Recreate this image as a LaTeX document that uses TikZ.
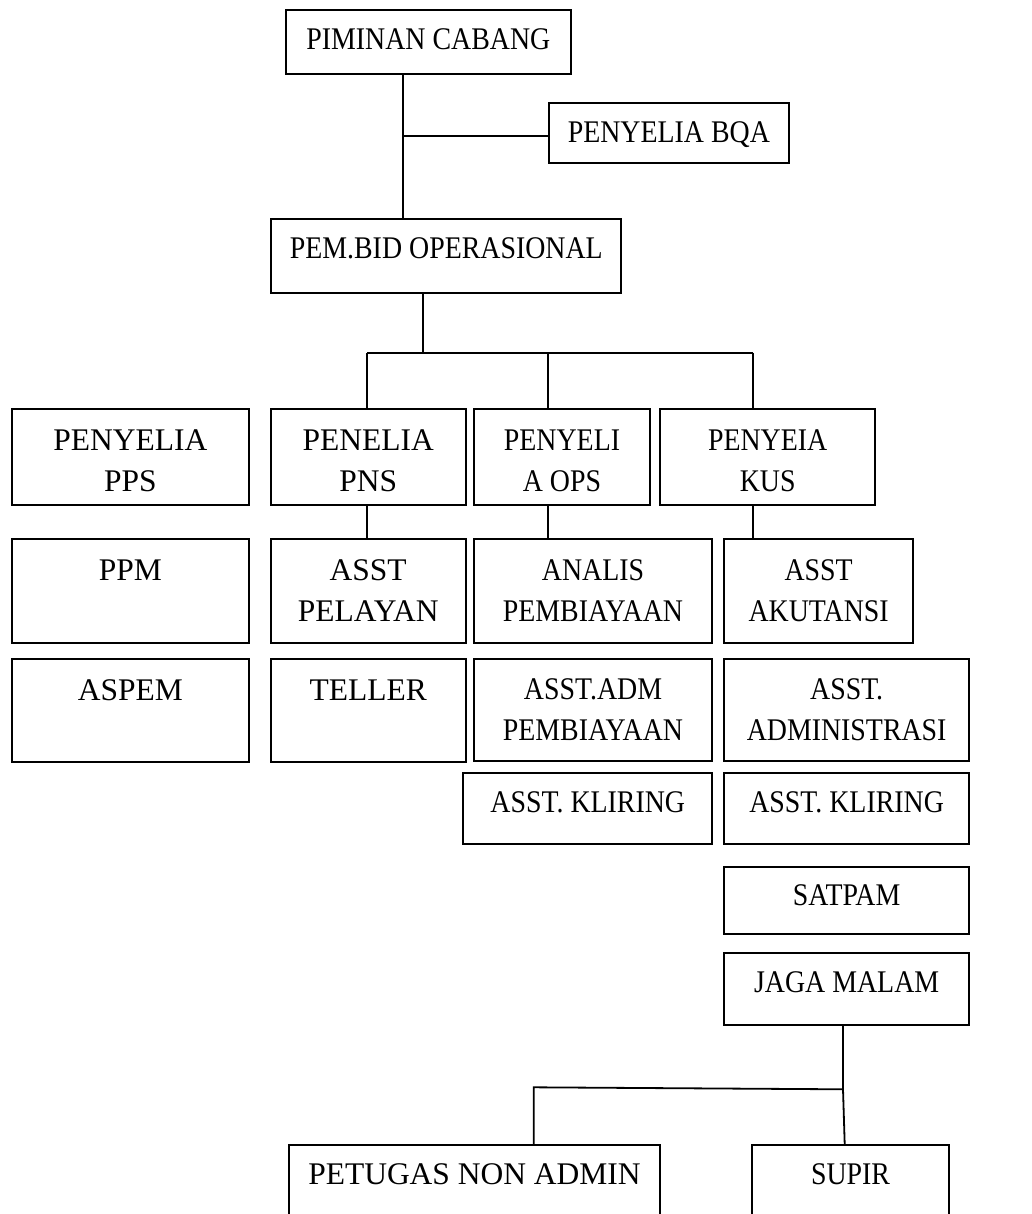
\documentclass[tikz,border=0pt]{standalone}
\usepackage{fontspec}
\setmainfont{Liberation Serif}
\newfontfamily\nar{Liberation Serif}[FakeStretch=0.885]
\newcommand\two[2]{\vtop{\baselineskip=41pt\halign{\hfil##\hfil\cr#1\cr#2\cr}}}
\tikzset{
  box/.style={draw, line width=1.8pt, inner sep=0pt, rectangle},
  txt/.style={anchor=base, inner sep=0pt, font=\nar\fontsize{31.5pt}{41pt}\selectfont},
  conn/.style={line width=1.8pt}
}
\newcommand\obox[7]{%
  \node[box, minimum width={(#4-#2)*1pt}, minimum height={(#5-#3)*1pt}] (#1) at ({(#2+#4)/2},{(#3+#5)/2}) {};
  \node[txt] (#1-t) at ({(#2+#4)/2},#6) {#7};}
\begin{document}
\begin{tikzpicture}[x=1pt,y=-1pt]
\useasboundingbox (0,0) rectangle (1032,1214);
\clip (0,0) rectangle (1032,1214);
\fill[white] (0,0) rectangle (1032,1214);
% boxes
\obox{pim}{286}{10}{570.7}{73.7}{50}{PIMINAN CABANG}
\obox{bqa}{548.7}{103}{789}{163.3}{142.7}{PENYELIA BQA}
\obox{pem}{271.3}{219}{621.3}{293.3}{259}{PEM.BID OPERASIONAL}
\obox{pps}{11.7}{409.3}{249}{505}{450}{\rmfamily\two{PENYELIA}{PPS}}
\obox{pns}{270.7}{409.3}{465.7}{505}{450}{\rmfamily\two{PENELIA}{PNS}}
\obox{ops}{473.7}{409.3}{650.3}{505}{450}{\two{PENYELI}{A OPS}}
\obox{kus}{660.3}{409.3}{875}{505}{450}{\two{PENYEIA}{KUS}}
\obox{ppm}{11.7}{539.3}{249}{643.3}{580}{\rmfamily PPM}
\obox{pel}{270.7}{539.3}{465.7}{643.3}{580}{\rmfamily\two{ASST}{PELAYAN}}
\obox{ana}{473.7}{539.3}{712.3}{643.3}{580}{\two{ANALIS}{PEMBIAYAAN}}
\obox{aku}{724.3}{539.3}{913}{643.3}{580}{\two{ASST}{AKUTANSI}}
\obox{asp}{11.7}{659}{249}{761.7}{700}{\rmfamily ASPEM}
\obox{tel}{270.7}{659}{465.7}{761.7}{700}{\rmfamily TELLER}
\obox{adm}{473.7}{659}{712.3}{761.3}{699}{\two{ASST.ADM}{PEMBIAYAAN}}
\obox{adi}{724.3}{659}{969}{761.3}{699}{\two{ASST.}{ADMINISTRASI}}
\obox{kla}{463.3}{772.7}{712.3}{844}{812.7}{ASST. KLIRING}
\obox{klb}{724.3}{772.7}{969}{844}{812.7}{ASST. KLIRING}
\obox{sat}{724.3}{866.7}{969}{933.7}{905.7}{SATPAM}
\obox{jag}{724.3}{953.3}{969}{1025}{992.7}{JAGA MALAM}
\obox{pet}{288.7}{1145}{660.3}{1260}{1184.3}{\rmfamily PETUGAS NON ADMIN}
\obox{sup}{752}{1145}{949}{1260}{1184.3}{SUPIR}
% connectors
\coordinate (j1) at (403.3,136.3);
\draw[conn] (pim.south -| j1) -- (pem.north -| j1);
\draw[conn] (j1) -- (bqa.west |- j1);
\coordinate (bar) at (423.3,352.7);
\coordinate (bl) at (367,352.7);
\coordinate (bm) at (548,352.7);
\coordinate (br) at (752.7,352.7);
\draw[conn] (pem.south -| bar) -- (bar);
\draw[conn] (bl) -- (br);
\draw[conn] (bl) -- (pns.north -| bl);
\draw[conn] (bm) -- (ops.north -| bm);
\draw[conn] (br) -- (kus.north -| br);
\draw[conn] (pns.south -| bl) -- (pel.north -| bl);
\draw[conn] (ops.south -| bm) -- (ana.north -| bm);
\draw[conn] (kus.south -| br) -- (aku.north -| br);
\coordinate (jb) at (843,1089.3);
\coordinate (jl) at (533.7,1087.3);
\coordinate (js) at (844.7,1145);
\draw[conn] (jag.south -| jb) -- (jb) -- (sup.north -| js);
\draw[conn] (jb) -- (jl) -- (pet.north -| jl);
\end{tikzpicture}
\end{document}
